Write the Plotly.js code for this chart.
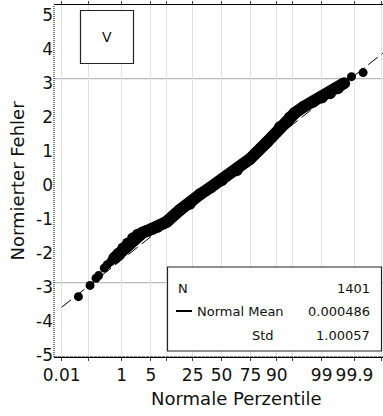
<!DOCTYPE html>
<html>
<head>
<meta charset="utf-8">
<script src="https://cdn.plot.ly/plotly-3.0.1.min.js"></script>
<style>
  html, body { margin: 0; padding: 0; background: #fff; }
  #chart { width: 383px; height: 416px; }
</style>
</head>
<body>
<div id="chart"></div>
<script>
// ---- Data (normal quantile z vs. normed error) ----
// isolated points in the lower tail
const tailLowZ = [-3.33, -3.06, -2.92, -2.86, -2.73, -2.66, -2.58];
const tailLowY = [-3.41, -3.08, -2.87, -2.79, -2.57, -2.47, -2.38];
// dense band of points
const bandZ = [-2.50, -2.40, -2.29, -2.18, -2.06, -1.95, -1.84, -1.72, -1.60, -1.50, -1.28, -0.97, -0.74, -0.50, -0.25, 0.00, 0.35, 0.66, 1.05, 1.36, 1.59, 1.70, 1.90, 2.13, 2.33, 2.52, 2.70, 2.85];
const bandY = [-2.28, -2.15, -1.99, -1.85, -1.69, -1.59, -1.53, -1.47, -1.41, -1.36, -1.21, -0.86, -0.68, -0.40, -0.19, 0.01, 0.31, 0.64, 1.13, 1.58, 1.86, 1.99, 2.17, 2.32, 2.45, 2.57, 2.72, 2.87];
// isolated points in the upper tail
const tailHighZ = [3.02, 3.29];
const tailHighY = [3.06, 3.18];

// fitted normal
const nObs = 1401;
const normalMean = 0.000486;
const normalStd = 1.00057;
const refLineZ = [-3.72, 3.75];

// percentile axis: gridline positions (normal quantiles) and labels
const percentileZ = [-3.719, -3.090, -2.326, -1.645, -1.282, -0.674, 0, 0.674, 1.282, 1.645, 2.326, 3.090, 3.719];
const percentileText = ['0.01', '', '1', '5', '', '25', '50', '75', '90', '', '99', '99.9', ''];
const yTicks = [-5, -4, -3, -2, -1, 0, 1, 2, 3, 4, 5];
const yTickText = ['-5', '-4', '-3', '-2', '-1', '0', '1', '2', '3', '4', '5'];
const refLevels = [-3, 3];

const FONT = 'DejaVu Sans, Verdana, sans-serif';
const TXT = '#111';

const traces = [
  {
    x: refLineZ,
    y: refLineZ.map(z => normalMean + normalStd * z),
    mode: 'lines', type: 'scatter',
    line: { color: '#000', width: 1, dash: '12px,5px' },
    hoverinfo: 'skip'
  },
  {
    x: bandZ, y: bandY, mode: 'lines+markers', type: 'scatter',
    line: { color: '#000', width: 12 },
    marker: { color: '#000', size: 12 },
    hoverinfo: 'skip'
  },
  {
    x: tailLowZ, y: tailLowY, mode: 'markers', type: 'scatter',
    marker: { color: '#000', size: 9 }, hoverinfo: 'skip'
  },
  {
    x: tailHighZ, y: tailHighY, mode: 'markers', type: 'scatter',
    marker: { color: '#000', size: 9 }, hoverinfo: 'skip'
  }
];

// paper-coordinate helpers for the plot area (l=54, t=5, w=329, h=352)
const PX = px => (px - 54) / 329;
const PY = py => (357 - py) / 352;

const shapes = refLevels.map(v => ({
  type: 'line', xref: 'paper', yref: 'y', x0: 0, x1: 1, y0: v, y1: v,
  line: { color: '#a8a8a8', width: 1 }, layer: 'below'
}));
// dotted left and bottom axis lines
shapes.push({
  type: 'line', xref: 'paper', yref: 'paper', x0: 0, x1: 0, y0: 0, y1: 1,
  line: { color: '#000', width: 1, dash: '1px,1px' }
});
shapes.push({
  type: 'line', xref: 'paper', yref: 'paper', x0: 0, x1: 1, y0: 0, y1: 0,
  line: { color: '#000', width: 1, dash: '3px,1px' }
});
// "V" label box
shapes.push({
  type: 'rect', xref: 'paper', yref: 'paper',
  x0: PX(80.5), x1: PX(133.5), y0: PY(63.5), y1: PY(10.5),
  line: { color: '#222', width: 1.2 }, fillcolor: '#fff'
});
// statistics box
shapes.push({
  type: 'rect', xref: 'paper', yref: 'paper',
  x0: PX(167.5), x1: PX(381.5), y0: PY(351), y1: PY(267),
  line: { color: '#222', width: 1.2 }, fillcolor: '#fff'
});
shapes.push({
  type: 'line', xref: 'paper', yref: 'paper',
  x0: PX(176), x1: PX(192), y0: PY(311), y1: PY(311),
  line: { color: '#000', width: 2 }
});

const statFont = { family: FONT, size: 13, color: TXT };
const annotations = [
  { text: 'V', x: PX(107), y: PY(37), xanchor: 'center', font: { family: FONT, size: 14, color: TXT } },
  { text: 'N', x: PX(176), y: PY(288), xanchor: 'left' },
  { text: String(nObs), x: PX(372), y: PY(288), xanchor: 'right' },
  { text: 'Normal Mean', x: PX(195), y: PY(311.5), xanchor: 'left' },
  { text: String(normalMean), x: PX(372), y: PY(311.5), xanchor: 'right' },
  { text: 'Std', x: PX(250), y: PY(335.5), xanchor: 'left' },
  { text: String(normalStd), x: PX(372), y: PY(335.5), xanchor: 'right' },
  { text: 'Normale Perzentile', x: PX(236), y: PY(398), xanchor: 'center',
    font: { family: FONT, size: 18, color: TXT } }
].map(a => Object.assign({ xref: 'paper', yref: 'paper', showarrow: false, yanchor: 'middle', font: statFont }, a));

const layout = {
  width: 383, height: 416,
  margin: { l: 54, r: 0, t: 5, b: 59 },
  paper_bgcolor: '#fff', plot_bgcolor: '#fff',
  showlegend: false,
  font: { family: FONT, color: TXT },
  xaxis: {
    range: [-3.898, 3.753],
    tickmode: 'array', tickvals: percentileZ, ticktext: percentileText,
    showgrid: true, gridcolor: '#e2e2e2', gridwidth: 1,
    zeroline: false,
    showline: true, linecolor: '#000', linewidth: 1, mirror: 'allticks',
    ticks: 'outside', ticklen: 3, tickcolor: '#444',
    tickfont: { family: FONT, size: 17, color: TXT }
  },
  yaxis: {
    range: [-5.185, 5.168],
    tickmode: 'array', tickvals: yTicks, ticktext: yTickText,
    showgrid: false, zeroline: false,
    showline: false,
    ticks: '',
    ticklabelshift: 4,
    tickfont: { family: FONT, size: 17, color: TXT },
    title: { text: 'Normierter Fehler', font: { family: FONT, size: 18, color: TXT }, standoff: 6 }
  },
  shapes: shapes,
  annotations: annotations
};

Plotly.newPlot('chart', traces, layout, { staticPlot: true, displayModeBar: false });
</script>
</body>
</html>
